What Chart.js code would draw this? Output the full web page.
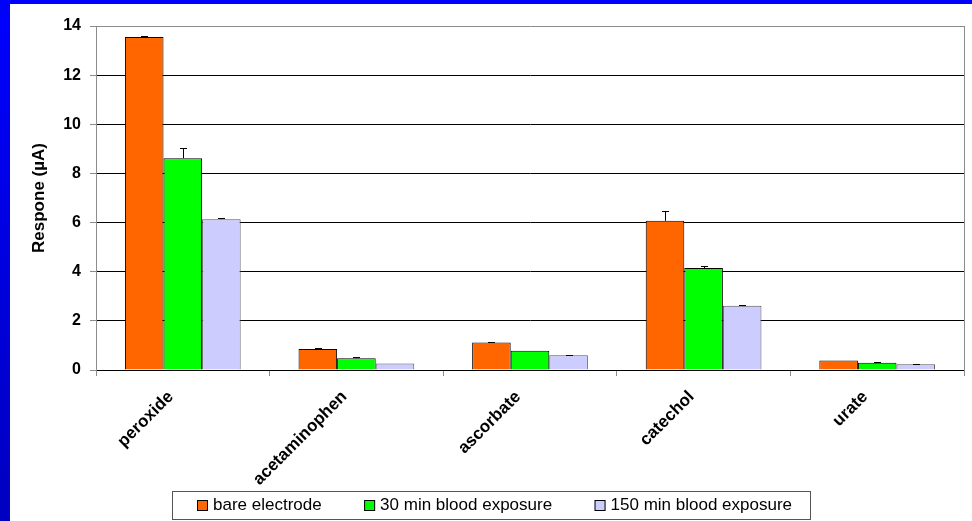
<!DOCTYPE html>
<html>
<head>
<meta charset="utf-8">
<script src="https://cdn.jsdelivr.net/npm/chart.js@4/dist/chart.umd.min.js"></script>
<style>
  html, body { margin: 0; padding: 0; overflow: hidden; background: #fff; }
  canvas { display: block; }
</style>
</head>
<body>
<canvas id="grafico" width="972" height="521"></canvas>
<script>
// dados
const categorias = ['peroxide', 'acetaminophen', 'ascorbate', 'catechol', 'urate'];
const series = ['bare electrode', '30 min blood exposure', '150 min blood exposure'];
const bare = [13.55, 0.85, 1.12, 6.07, 0.39];
const min30 = [8.62, 0.48, 0.78, 4.15, 0.30];
const min150 = [6.14, 0.26, 0.60, 2.61, 0.23];
const erroBare = [0.03, 0.03, 0.03, 0.42, 0.0];
const erroMin30 = [0.43, 0.03, 0.0, 0.07, 0.03];
const erroMin150 = [0.03, 0.0, 0.02, 0.03, 0.03];
const yMax = 14;
const yPasso = 2;
const tituloY = 'Respone (\u00b5A)';

const fonte = "'Liberation Sans', Arial, sans-serif";

// fundo branco com a moldura azul do slide
const fundo = {
  id: 'fundo',
  beforeDraw(chart) {
    const ctx = chart.ctx;
    ctx.save();
    ctx.fillStyle = '#ffffff';
    ctx.fillRect(0, 0, chart.width, chart.height);
    const g = ctx.createLinearGradient(0, 0, 0, chart.height);
    g.addColorStop(0, '#0000ff');
    g.addColorStop(1, '#0000c0');
    ctx.fillStyle = g;
    ctx.fillRect(0, 0, 10, chart.height);
    ctx.fillStyle = '#0000ff';
    ctx.fillRect(0, 0, chart.width, 4);
    ctx.restore();
  }
};

// barras de erro (so para cima)
const barrasErro = {
  id: 'barrasErro',
  afterDatasetsDraw(chart) {
    const ctx = chart.ctx;
    const y = chart.scales.y;
    ctx.save();
    ctx.strokeStyle = '#000';
    ctx.lineWidth = 1;
    chart.data.datasets.forEach((ds, i) => {
      const meta = chart.getDatasetMeta(i);
      meta.data.forEach((bar, j) => {
        const e = ds.erro[j];
        if (!e) return;
        const x = Math.round(bar.x) + 0.5;
        const yTopo = Math.round(y.getPixelForValue(ds.data[j] + e)) + 0.5;
        ctx.beginPath();
        ctx.moveTo(x, bar.y);
        ctx.lineTo(x, yTopo);
        ctx.moveTo(x - 3.5, yTopo);
        ctx.lineTo(x + 3.5, yTopo);
        ctx.stroke();
      });
    });
    ctx.restore();
  }
};

// borda direita da area e legenda com caixa
const bordas = {
  id: 'bordas',
  afterDraw(chart) {
    const ctx = chart.ctx;
    const a = chart.chartArea;
    ctx.save();
    ctx.strokeStyle = '#8c8c8c';
    ctx.lineWidth = 1;
    ctx.beginPath();
    ctx.moveTo(Math.round(a.right) + 0.5, a.top);
    ctx.lineTo(Math.round(a.right) + 0.5, a.bottom + 6);
    ctx.stroke();

    // legenda
    const caixa = { left: 172, top: 491, width: 638, height: 28 };
    ctx.strokeStyle = '#555';
    ctx.strokeRect(caixa.left + 0.5, caixa.top + 0.5, caixa.width, caixa.height);
    ctx.font = '17px ' + fonte;
    ctx.textBaseline = 'middle';
    ctx.fillStyle = '#000';
    const larguras = chart.data.datasets.map(ds => ctx.measureText(ds.label).width);
    const usado = larguras.reduce((s, w) => s + w + 16, 0);
    const folga = (caixa.width - 25 - 18 - usado) / (larguras.length - 1);
    let x = caixa.left + 25;
    const yMeio = caixa.top + caixa.height / 2 + 0.5;
    chart.data.datasets.forEach((ds, i) => {
      ctx.fillStyle = ds.backgroundColor;
      ctx.fillRect(x, yMeio - 5.5, 11, 11);
      ctx.strokeStyle = '#000';
      ctx.strokeRect(x + 0.5, yMeio - 5.5 + 0.5, 10, 10);
      ctx.fillStyle = '#000';
      ctx.fillText(ds.label, x + 16, yMeio);
      x += 16 + larguras[i] + folga;
    });
    ctx.restore();
  }
};

const ctx = document.getElementById('grafico').getContext('2d');

const meuGrafico = new Chart(ctx, {
  type: 'bar',
  data: {
    labels: categorias,
    datasets: [
      { label: series[0], data: bare, erro: erroBare, backgroundColor: '#ff6600', borderColor: '#000000', borderWidth: 1 },
      { label: series[1], data: min30, erro: erroMin30, backgroundColor: '#00ff00', borderColor: '#000000', borderWidth: 1 },
      { label: series[2], data: min150, erro: erroMin150, backgroundColor: '#ccccff', borderColor: '#555555', borderWidth: 1 }
    ]
  },
  options: {
    responsive: false,
    animation: false,
    devicePixelRatio: 1,
    layout: { padding: { left: 24, right: 8, top: 26, bottom: 0 } },
    datasets: { bar: { categoryPercentage: 3 / 4.5, barPercentage: 1 } },
    plugins: {
      tooltip: { enabled: false },
      legend: { display: false }
    },
    scales: {
      x: {
        afterFit(s) { s.height = 151; },
        grid: { drawOnChartArea: false, drawTicks: true, tickLength: 6, tickColor: '#8c8c8c' },
        border: { color: '#000', width: 1 },
        ticks: {
          minRotation: 45,
          maxRotation: 45,
          color: '#000',
          padding: 11,
          labelOffset: -12,
          font: { family: fonte, size: 17, weight: 'bold' }
        }
      },
      y: {
        min: 0,
        max: yMax,
        afterFit(s) { s.width = 72; },
        grid: {
          color: (c) => (c.tick && c.tick.value === yMax ? '#8c8c8c' : '#000'),
          tickColor: '#8c8c8c',
          tickLength: 6
        },
        border: { color: '#8c8c8c', width: 1 },
        ticks: {
          stepSize: yPasso,
          color: '#000',
          padding: 9,
          font: { family: fonte, size: 16, weight: 'bold' }
        },
        title: {
          display: true,
          text: tituloY,
          color: '#000',
          padding: { top: 5, bottom: 0 },
          font: { family: fonte, size: 17, weight: 'bold' }
        }
      }
    }
  },
  plugins: [fundo, barrasErro, bordas]
});
</script>
</body>
</html>
